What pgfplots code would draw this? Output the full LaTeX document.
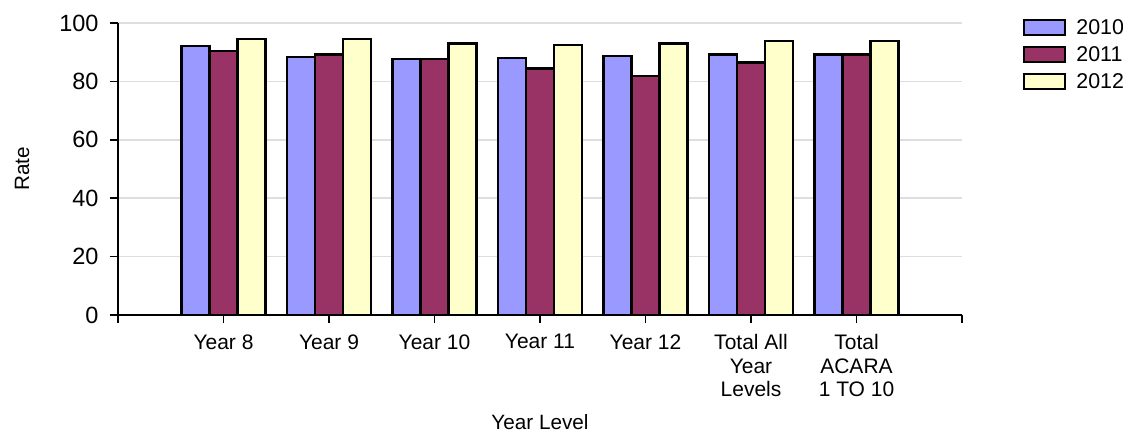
\documentclass[border=0pt]{standalone}
\usepackage{fontspec}
\setmainfont{Liberation Sans}
\usepackage{pgfplots}
\pgfplotsset{compat=1.18}
\definecolor{cA}{HTML}{9999FF}
\definecolor{cB}{HTML}{993366}
\definecolor{cC}{HTML}{FFFFCC}
\begin{document}
\begin{tikzpicture}
\path[use as bounding box] (-118pt,-117pt) rectangle (1005pt,315pt);
\begin{axis}[
  at={(0pt,0pt)}, anchor=south west,
  scale only axis, width=844pt, height=292pt,
  xmin=-1, xmax=7, ymin=0, ymax=100,
  ybar=0pt, bar width=28pt,
  axis x line*=bottom, axis y line*=left,
  axis line style={-, line width=1.5pt, black},
  xtick={-1,0,1,2,3,4,5,6,7},
  xticklabels={,Year 8,Year 9,Year 10,Year 11,Year 12,Total All\\Year\\Levels,Total\\ACARA\\1 TO 10,},
  ytick={0,20,40,60,80,100},
  ymajorgrids, major grid style={line width=1.5pt, black!13},
  tick align=outside, major tick length=8pt,
  tick style={black, line width=1.5pt},
  /pgf/number format/assume math mode=true,
  yticklabel style={font=\fontsize{23.5}{27}\selectfont, xshift=-8pt},
  xticklabel style={font=\fontsize{21}{23.5}\selectfont, align=center, anchor=north, yshift=-8pt},
  xlabel={Year Level}, ylabel={Rate},
  label style={font=\fontsize{20.7}{24}\selectfont},
  xlabel style={at={(axis description cs:0.5,-0.3664)}, anchor=center},
  ylabel style={at={(axis description cs:-0.1137,0.5)}, anchor=center},
  legend style={at={(axis description cs:1,1)}, anchor=north west, xshift=61pt, yshift=6pt,
    draw=none, fill=none, inner sep=0pt, font=\fontsize{21.4}{25}\selectfont, row sep=6.5pt},
  legend cell align=left,
  legend image code/.code={\draw[#1] (0pt,-7.5pt) rectangle (41pt,7.5pt); \path (49pt,0pt);},
]
\addplot[fill=cA, draw=black, line width=2.2pt] coordinates {(0,92.0) (1,88.4) (2,87.7) (3,87.9) (4,88.6) (5,89.2) (6,89.2)};
\addplot[fill=cB, draw=black, line width=2.2pt] coordinates {(0,90.3) (1,89.2) (2,87.7) (3,84.4) (4,81.9) (5,86.5) (6,89.2)};
\addplot[fill=cC, draw=black, line width=2.2pt] coordinates {(0,94.4) (1,94.4) (2,93.0) (3,92.6) (4,93.0) (5,93.7) (6,93.7)};
\legend{2010,2011,2012}
\end{axis}
\end{tikzpicture}
\end{document}
